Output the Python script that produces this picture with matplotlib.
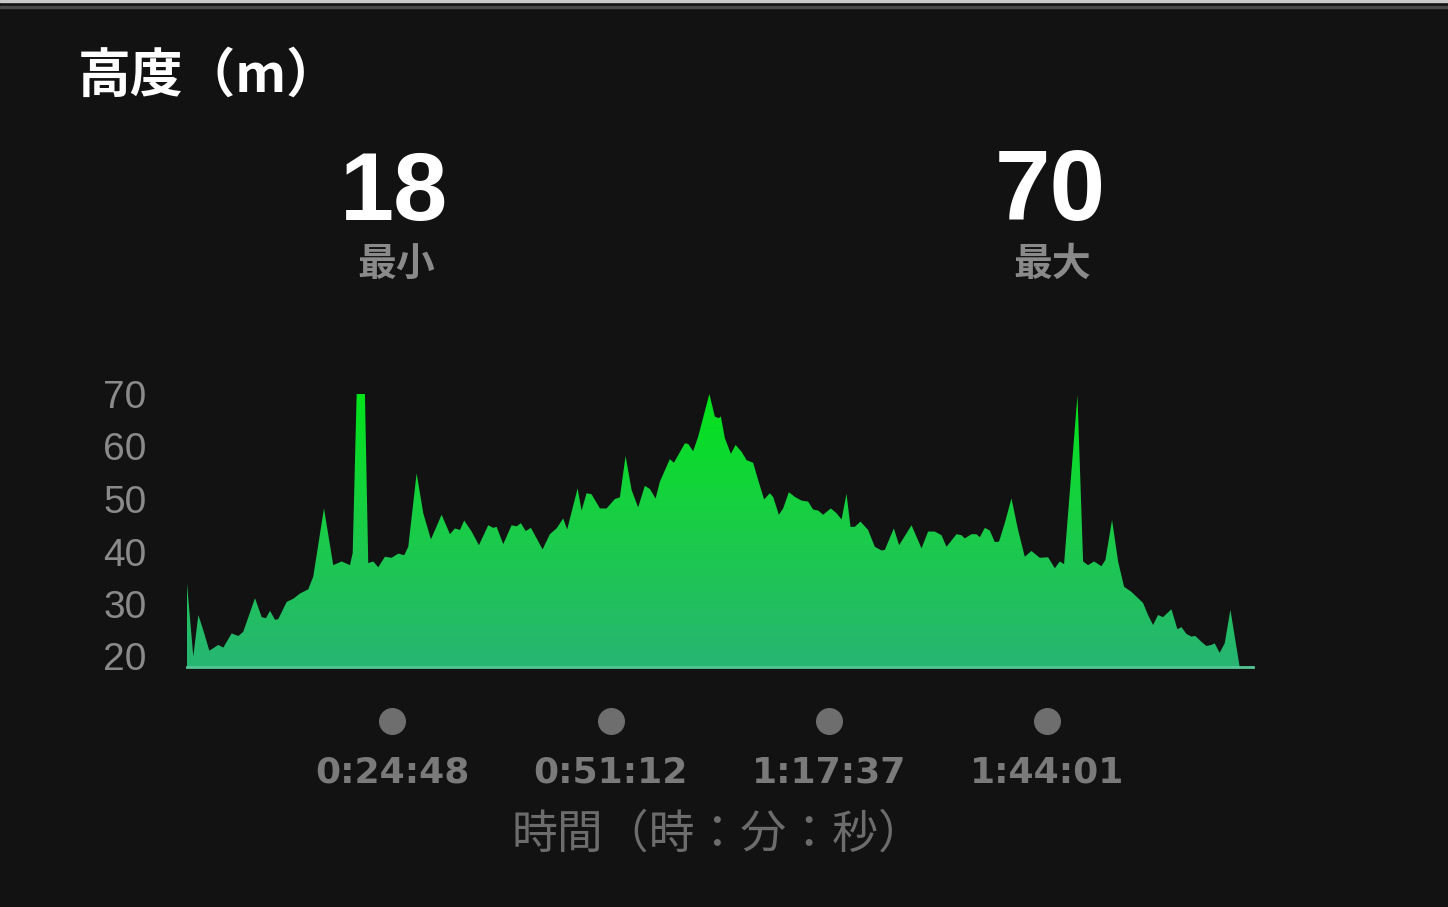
import numpy as np
import matplotlib.pyplot as plt
from matplotlib.colors import LinearSegmentedColormap
from matplotlib.patches import Rectangle

# elapsed time (minutes) and altitude (m)
minutes = [0.0, 0.76, 1.37, 1.97, 2.70, 3.78, 4.39, 5.40, 6.20, 6.80,
           8.22, 9.03, 9.55, 10.03, 10.64, 11.03, 12.05, 12.85, 13.66, 14.66,
           15.26, 16.56, 17.68, 18.70, 19.70, 20.03, 20.51, 21.51, 21.91, 22.52,
           23.12, 23.93, 24.74, 25.54, 26.26, 26.75, 27.76, 28.56, 29.49, 30.78,
           31.79, 32.39, 33.00, 33.51, 34.41, 35.29, 36.42, 37.02, 37.43, 38.23,
           39.24, 39.85, 40.37, 40.94, 41.58, 42.99, 43.87, 44.68, 45.48, 45.96,
           47.22, 47.70, 48.31, 48.91, 49.92, 50.72, 51.73, 52.33, 53.02, 53.75,
           54.54, 55.35, 55.96, 56.65, 57.17, 58.37, 58.86, 60.19, 60.59, 61.19,
           61.80, 63.15, 63.81, 64.30, 64.54, 65.02, 65.75, 66.32, 67.04, 67.65,
           68.44, 69.05, 69.77, 70.46, 70.86, 71.55, 72.07, 72.76, 73.48, 74.29,
           75.09, 75.69, 76.30, 76.90, 77.83, 78.52, 79.13, 79.73, 80.21, 80.73,
           81.42, 82.34, 83.15, 83.96, 84.36, 85.45, 86.09, 87.59, 88.80, 89.59,
           90.40, 91.21, 91.82, 93.03, 93.63, 94.03, 94.84, 95.44, 95.84, 96.45,
           97.05, 97.66, 98.17, 98.86, 99.67, 100.47, 101.28, 102.09, 103.09, 104.10,
           104.91, 105.51, 106.03, 107.65, 108.33, 108.93, 109.66, 110.55, 111.03, 111.83,
           112.56, 113.28, 114.18, 114.78, 115.58, 116.18, 116.79, 117.39, 117.99, 119.01,
           119.73, 120.22, 120.82, 121.42, 121.91, 122.63, 123.24, 123.84, 124.24, 124.84,
           125.45, 126.14, 126.66, 127.26, 128.87]
altitude = [33.9, 20.0, 27.9, 25.0, 21.1, 22.2, 21.7, 24.4, 23.9, 24.7,
            31.1, 27.5, 27.3, 28.7, 27.0, 27.1, 30.4, 31.0, 32.0, 32.8,
            35.2, 48.2, 37.4, 38.1, 37.4, 39.7, 70.0, 70.0, 37.8, 38.1,
            37.0, 39.0, 38.8, 39.6, 39.3, 40.9, 54.9, 47.3, 42.3, 47.0,
            43.3, 44.4, 44.1, 45.9, 43.8, 41.2, 45.0, 44.5, 44.7, 41.4,
            45.0, 44.8, 45.4, 43.9, 44.5, 40.4, 43.3, 44.4, 46.3, 44.2,
            52.0, 47.8, 51.1, 50.9, 48.2, 48.2, 50.0, 50.3, 58.2, 51.7,
            48.4, 52.5, 51.9, 50.1, 53.3, 57.6, 56.9, 60.6, 60.5, 59.1,
            61.9, 70.0, 65.7, 65.4, 65.7, 61.6, 58.6, 60.3, 59.0, 57.4,
            56.9, 53.6, 49.9, 51.1, 50.4, 47.0, 48.2, 51.3, 50.4, 49.7,
            49.5, 48.0, 47.8, 47.0, 48.2, 47.3, 46.1, 51.0, 44.7, 44.7,
            45.7, 44.1, 40.9, 40.2, 40.3, 44.4, 41.2, 45.0, 40.6, 43.8,
            43.8, 43.1, 40.9, 43.3, 43.1, 42.5, 43.3, 43.3, 42.7, 44.5,
            44.0, 41.8, 41.9, 45.4, 50.1, 44.1, 39.0, 40.1, 38.8, 38.9,
            36.8, 38.1, 37.6, 69.8, 38.1, 37.4, 38.1, 37.2, 38.4, 46.0,
            38.1, 33.3, 32.3, 31.4, 30.2, 27.9, 26.0, 27.9, 27.5, 29.0,
            25.2, 25.6, 24.3, 23.8, 23.9, 22.8, 22.0, 22.2, 22.5, 20.7,
            22.5, 28.9, 23.8, 18.0, 18.0]

tick_minutes = [24.8, 51.2, 77.617, 104.017]
tick_labels = ['0:24:48', '0:51:12', '1:17:37', '1:44:01']
y_ticks = [20, 30, 40, 50, 60, 70]
alt_min = 18
alt_max = 70

cjk = ['Noto Sans CJK JP', 'DejaVu Sans']
bg = '#121212'

W, H = 1448, 907
fig = plt.figure(figsize=(W / 100, H / 100), dpi=100, facecolor=bg)

# thin frame lines at the very top of the screenshot
fig.patches.append(Rectangle((0, 1 - 2 / H), 1, 2 / H, transform=fig.transFigure,
                             color='#c8c8c8', zorder=0))
fig.patches.append(Rectangle((0, 1 - 8 / H), 1, 2 / H, transform=fig.transFigure,
                             color='#4a4a4a', zorder=0))

ax = fig.add_axes([187 / W, 1 - 667 / H, 1066 / W, 273 / H])
ax.set_facecolor(bg)

# gradient-filled area
poly = ax.fill_between(minutes, altitude, alt_min, color='none', lw=0)
cmap = LinearSegmentedColormap.from_list('alt', ['#27b573', '#1acc48', '#02e41a'])
grad = np.linspace(0, 1, 256).reshape(-1, 1)
im = ax.imshow(grad, cmap=cmap, origin='lower', aspect='auto',
               extent=[minutes[0], minutes[-1], alt_min, alt_max + 0.5], zorder=2)
im.set_clip_path(poly.get_paths()[0], transform=ax.transData)
ax.plot([minutes[0], minutes[-1]], [alt_min, alt_min], color='#55c595', lw=2,
        zorder=3, clip_on=False)

ax.set_xlim(minutes[0], minutes[-1])
ax.set_ylim(alt_min, alt_max)
for s in ax.spines.values():
    s.set_visible(False)

ax.set_yticks(y_ticks)
ax.tick_params(axis='y', length=0, pad=29, labelsize=28, labelcolor='#8a8a8a')
for lab in ax.get_yticklabels():
    lab.set_family('Liberation Sans')

ax.set_xticks(tick_minutes, tick_labels)
ax.tick_params(axis='x', length=0, pad=64, labelsize=26, labelcolor='#7a7a7a')
for lab in ax.get_xticklabels():
    lab.set_family('DejaVu Sans')
    lab.set_weight('bold')

# dot markers above the time labels
ax.scatter(tick_minutes, [-0.198] * len(tick_minutes), s=340, color='#6e6e6e',
           transform=ax.get_xaxis_transform(), clip_on=False, zorder=3)

# texts
fig.text(78 / W, 1 - 76 / H, '高度（m）', ha='left', va='center', fontsize=38,
         weight='bold', color='white', family=cjk)
fig.text(394 / W, 1 - 220 / H, str(alt_min), ha='center', va='baseline', fontsize=70,
         weight='bold', color='white', family='Liberation Sans')
fig.text(1050 / W, 1 - 220 / H, str(alt_max), ha='center', va='baseline', fontsize=72,
         weight='bold', color='white', family='Liberation Sans')
fig.text(396 / W, 1 - 264 / H, '最小', ha='center', va='center', fontsize=28,
         weight='bold', color='#8a8a8a', family=cjk)
fig.text(1052 / W, 1 - 264 / H, '最大', ha='center', va='center', fontsize=28,
         weight='bold', color='#8a8a8a', family=cjk)
fig.text(718 / W, 1 - 834 / H, '時間（時：分：秒）', ha='center', va='center', fontsize=33,
         color='#6c6c6c', family=cjk)

fig.savefig('out.png', dpi=100, facecolor=bg)
